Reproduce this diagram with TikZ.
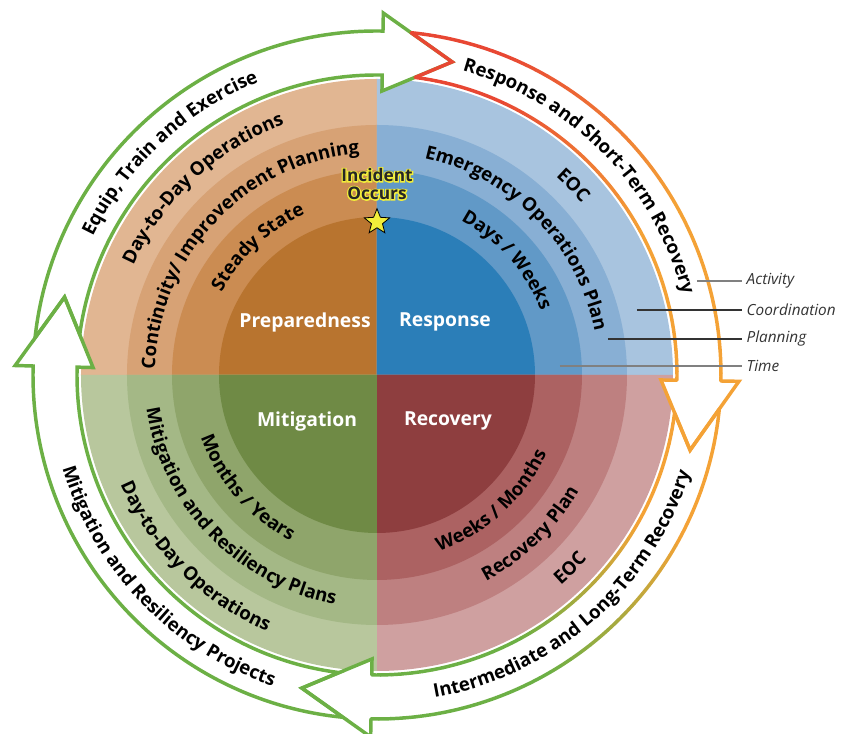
\documentclass[tikz,border=0pt]{standalone}
\usepackage{fontspec}
\setmainfont{Open Sans}
\newfontfamily\halofont{Open Sans}[BoldFeatures={FakeBold=14}]
\usetikzlibrary{decorations.text, shapes.geometric}

\definecolor{prepA}{HTML}{E1B692}
\definecolor{prepB}{HTML}{D7A275}
\definecolor{prepC}{HTML}{CB8C52}
\definecolor{prepD}{HTML}{B8742F}
\definecolor{respA}{HTML}{A8C4DF}
\definecolor{respB}{HTML}{88AFD4}
\definecolor{respC}{HTML}{6199C7}
\definecolor{respD}{HTML}{2B7EB8}
\definecolor{recA}{HTML}{CFA0A0}
\definecolor{recB}{HTML}{BE8080}
\definecolor{recC}{HTML}{AC6262}
\definecolor{recD}{HTML}{8E3E3F}
\definecolor{mitA}{HTML}{B8C79D}
\definecolor{mitB}{HTML}{A4B886}
\definecolor{mitC}{HTML}{8FA56B}
\definecolor{mitD}{HTML}{6F8A45}
\definecolor{arrgreen}{HTML}{6CB045}
\definecolor{arrred}{HTML}{E84733}
\definecolor{arrorange}{HTML}{F4A236}
\definecolor{incyellow}{HTML}{F2EE3A}

\newcommand\arcfont{\fontsize{14}{15}\selectfont\bfseries}
\newcommand\cwtext[3]{\path[arctext={#3}] (#1+70:#2) arc[start angle=#1+70, end angle=#1-70, radius=#2];}
\newcommand\ccwtext[3]{\path[arctext={#3}] (#1-70:#2) arc[start angle=#1-70, end angle=#1+70, radius=#2];}

\tikzstyle{arrowline} = [line width=2.6pt]
\tikzstyle{phase} = [text=white, font=\fontsize{14.5}{17}\selectfont\bfseries]
\tikzstyle{legend} = [anchor=west, font=\fontsize{11.5}{14}\selectfont\itshape, text=black!80]
\tikzset{arctext/.style={decorate, decoration={text along path, text align=center, text={|\arcfont|#1}}}}

\begin{document}
\begin{tikzpicture}[scale=0.02636]
\useasboundingbox (-377,-359) rectangle (472,375);
% quadrants, ring by ring
\foreach \a/\ca/\cb/\cc/\cd in {90/prepA/prepB/prepC/prepD,0/respA/respB/respC/respD,-90/recA/recB/recC/recD,180/mitA/mitB/mitC/mitD}{
  \foreach \r/\c in {296/\ca,250/\cb,205/\cc,158/\cd}
    \fill[\c] (0,0) -- (\a:\r) arc[start angle=\a, end angle=\a+90, radius=\r] -- cycle;
}
% cycle arrows
\foreach \t/\b in {178.5/89,89/-1,-1/-91,-91/-181.5}
  \fill[white] (\t-4.7:344) arc[start angle=\t-4.7, end angle=\b, radius=344] -- (\b:362) -- (\b-12.5:322) -- (\b:284) -- (\b:300) arc[start angle=\b, end angle=\t-6.3, radius=300] -- (\t-12.5:322) -- cycle;
\foreach \t/\b in {178.5/89,-91/-181.5}
  \draw[arrowline, arrgreen] (\t-4.7:344) arc[start angle=\t-4.7, end angle=\b, radius=344] -- (\b:362) -- (\b-12.5:322) -- (\b:284) -- (\b:300) arc[start angle=\b, end angle=\t-6.3, radius=300] -- (\t-12.5:322) -- cycle;
% red to orange
\foreach \k in {0,...,43}{
  \pgfmathsetmacro\aa{84.3-2*\k}
  \pgfmathsetmacro\ab{max(\aa-2,-1)}
  \pgfmathsetmacro\ia{82.7-2*\k}
  \pgfmathsetmacro\ib{max(\ia-2,-1)}
  \pgfmathtruncatemacro\p{min(100,max(0,(68-(\aa+\ab)/2)*100/38))}
  \ifdim\aa pt>-1pt
    \draw[arrowline, line cap=round, arrorange!\p!arrred] (\aa:344) arc[start angle=\aa, end angle=\ab, radius=344];
  \fi
  \ifdim\ia pt>-1pt
    \draw[arrowline, line cap=round, arrorange!\p!arrred] (\ia:300) arc[start angle=\ia, end angle=\ib, radius=300];
  \fi
}
\draw[arrowline, arrred] (84.3:344) -- (76.5:322) -- (82.7:300);
\draw[arrowline, arrorange] (-1:344) -- (-1:362) -- (-13.5:322) -- (-1:284) -- (-1:300);
% orange to green
\foreach \k in {0,...,43}{
  \pgfmathsetmacro\aa{-5.7-2*\k}
  \pgfmathsetmacro\ab{max(\aa-2,-91)}
  \pgfmathsetmacro\ia{-7.3-2*\k}
  \pgfmathsetmacro\ib{max(\ia-2,-91)}
  \pgfmathtruncatemacro\p{min(100,max(0,(-28-(\aa+\ab)/2)*100/32))}
  \ifdim\aa pt>-91pt
    \draw[arrowline, line cap=round, arrgreen!\p!arrorange] (\aa:344) arc[start angle=\aa, end angle=\ab, radius=344];
  \fi
  \ifdim\ia pt>-91pt
    \draw[arrowline, line cap=round, arrgreen!\p!arrorange] (\ia:300) arc[start angle=\ia, end angle=\ib, radius=300];
  \fi
}
\draw[arrowline, arrorange] (-5.7:344) -- (-13.5:322) -- (-7.3:300);
\draw[arrowline, arrgreen] (-91:344) -- (-91:362) -- (-103.5:322) -- (-91:284) -- (-91:300);
% arrow texts
\cwtext{133}{316}{Equip, Train and Exercise}
\cwtext{44.5}{316}{Response and Short-Term Recovery}
\ccwtext{-48.6}{328}{Intermediate and Long-Term Recovery}
\ccwtext{-136}{328}{Mitigation and Resiliency Projects}
% ring texts
\cwtext{133}{267}{Day-to-Day Operations}
\cwtext{136.5}{222}{Continuity/ Improvement Planning}
\cwtext{133}{176}{Steady State}
\cwtext{44}{267}{EOC}
\cwtext{44.5}{222}{Emergency Operations Plan}
\cwtext{41.5}{176}{Days / Weeks}
\ccwtext{-47.7}{187}{Weeks / Months}
\ccwtext{-46}{233}{Recovery Plan}
\ccwtext{-45}{279}{EOC}
\ccwtext{-139}{187}{Months / Years}
\ccwtext{-136}{233}{Mitigation and Resiliency Plans}
\ccwtext{-135}{279}{Day-to-Day Operations}
% phases
\node[phase] (prep) at (-72,53) {Preparedness};
\node[phase] (resp) at (68,53) {Response};
\node[phase] (mit) at (-70,-46) {Mitigation};
\node[phase] (rec) at (71,-46) {Recovery};
% incident
\node[star, star points=5, star point ratio=2.3, draw=black, fill=incyellow, minimum size=20pt, inner sep=0pt, line width=0.6pt] (star) at (0,153) {};
\node[align=center, font=\fontsize{13}{13.5}\halofont\bfseries, text=incyellow] (incidentHalo) at (0,191) {Incident\\Occurs};
\node[align=center, font=\fontsize{13}{13.5}\selectfont\bfseries, text=black!85] (incident) at (incidentHalo) {Incident\\Occurs};
% legend
\coordinate (actS) at (320,94);
\coordinate (cooS) at (260,65);
\coordinate (plaS) at (231,36);
\coordinate (timS) at (183,9);
\node[legend] (act) at (365,94) {Activity};
\node[legend] (coo) at (365,65) {Coordination};
\node[legend] (pla) at (365,36) {Planning};
\node[legend] (tim) at (365,9) {Time};
\draw[black!50, line width=0.8pt] (actS) -- (act.west);
\draw[black!80, line width=0.8pt] (cooS) -- (coo.west);
\draw[black!80, line width=0.8pt] (plaS) -- (pla.west);
\draw[black!50, line width=0.8pt] (timS) -- (tim.west);
\end{tikzpicture}
\end{document}
